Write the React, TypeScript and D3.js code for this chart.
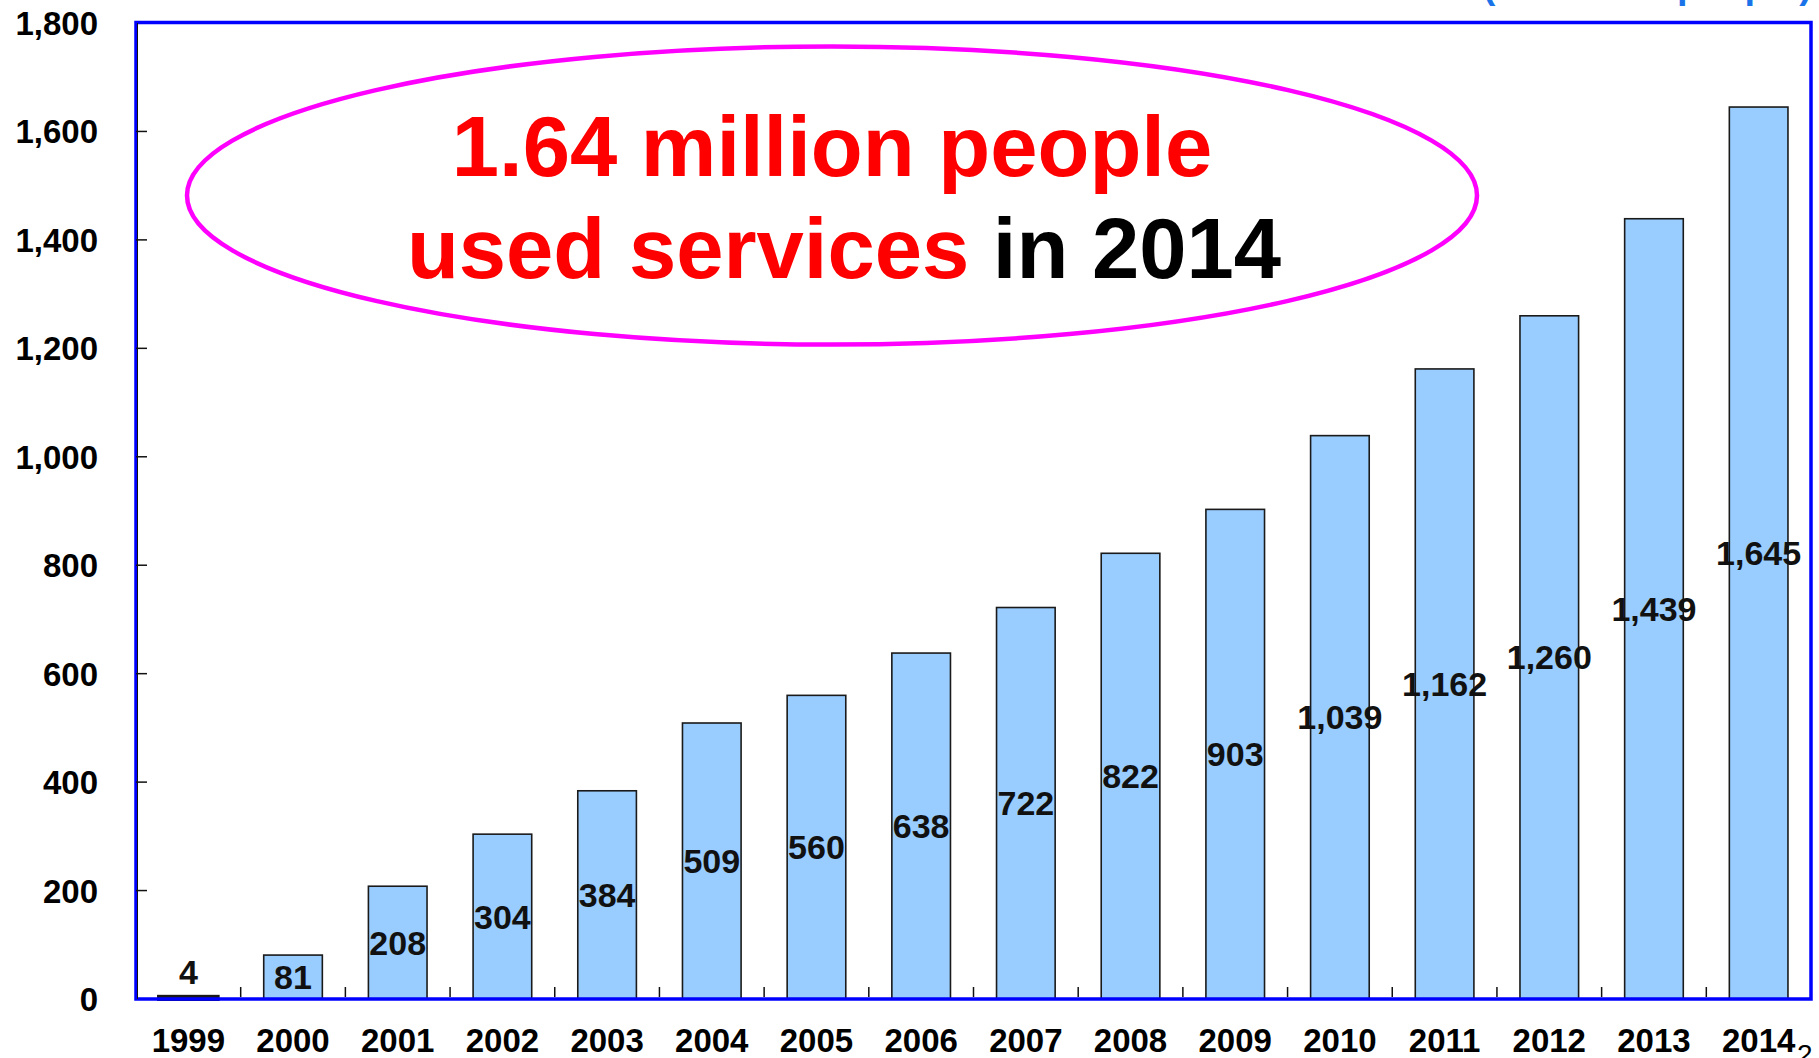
import React from "react";
import * as d3 from "d3";

const years = ["1999","2000","2001","2002","2003","2004","2005","2006","2007","2008","2009","2010","2011","2012","2013","2014"];
const users = [4, 81, 208, 304, 384, 509, 560, 638, 722, 822, 903, 1039, 1162, 1260, 1439, 1645];
const yTicks = [0, 200, 400, 600, 800, 1000, 1200, 1400, 1600, 1800];
const unitLabel = "(thousand people)";
const headline1 = "1.64 million people";
const headline2Red = "used services";
const headline2Black = " in 2014";

const W = 1819;
const H = 1058;
const FONT = "'Liberation Sans', Arial, sans-serif";

export default function App() {
  const left = 136, right = 1811, top = 23, bottom = 999;
  const x = d3.scaleBand<string>().domain(years).range([left, right]).paddingInner(0.44).paddingOuter(0.22);
  const y = d3.scaleLinear().domain([0, 1800]).range([bottom, top]);
  const step = x.step();
  const fmt = d3.format(",");

  return (
    <svg width={W} height={H} style={{ position: "absolute", left: 0, top: 0, background: "#fff" }}>
      <rect x={0} y={0} width={W} height={H} fill="#fff" />
      {/* bars */}
      {years.map((yr, i) => {
        const v = users[i];
        const bx = x(yr)!;
        return (
          <rect key={yr} x={bx} y={y(v)} width={x.bandwidth()} height={Math.max(0, bottom - y(v))}
            fill="#99CCFF" stroke="#1a1a1a" strokeWidth={v < 20 ? 4 : 1.6} />
        );
      })}
      {/* frame */}
      <rect x={left} y={top - 0.5} width={right - left} height={bottom - top + 0.5} fill="none" stroke="#0000FF" strokeWidth={3.5} />
      <line x1={left + 1.5} x2={left + 1.5} y1={top} y2={bottom} stroke="#111" strokeWidth={1} />
      {/* y ticks */}
      {yTicks.map(t => (
        <g key={t}>
          {t > 0 && t < 1800 && <line x1={left} x2={left + 11} y1={y(t)} y2={y(t)} stroke="#111" strokeWidth={1.5} />}
          <text x={98} y={y(t) + 12} textAnchor="end" fontFamily={FONT} fontWeight="bold" fontSize={33} fill="#000">{fmt(t)}</text>
        </g>
      ))}
      {/* x ticks */}
      {years.slice(1).map((yr) => {
        const tx = x(yr)! - (step - x.bandwidth()) / 2;
        return <line key={yr} x1={tx} x2={tx} y1={bottom - 2} y2={bottom - 12} stroke="#111" strokeWidth={1.5} />;
      })}
      {/* x labels */}
      {years.map(yr => (
        <text key={yr} x={x(yr)! + x.bandwidth() / 2} y={1052} textAnchor="middle" fontFamily={FONT} fontWeight="bold" fontSize={33} fill="#000">{yr}</text>
      ))}
      {/* value labels */}
      {years.map((yr, i) => {
        const v = users[i];
        const cy = v < 40 ? y(v) - 25 : (y(v) + bottom) / 2;
        return (
          <text key={yr} x={x(yr)! + x.bandwidth() / 2} y={cy + 12} textAnchor="middle" fontFamily={FONT} fontWeight="bold" fontSize={34} fill="#111">{fmt(v)}</text>
        );
      })}
      {/* unit label (cut off at top) */}
      <text x={1812} y={-2} textAnchor="end" fontFamily={FONT} fontWeight="bold" fontSize={38} fill="#1a73e8">{unitLabel}</text>
      {/* page number fragment */}
      <text x={1797} y={1064} fontFamily={FONT} fontSize={28} fill="#000">2</text>
      {/* ellipse annotation */}
      <ellipse cx={832} cy={195.5} rx={645} ry={149} fill="none" stroke="#FF00FF" strokeWidth={4.5} />
      <text x={832} y={176} textAnchor="middle" fontFamily={FONT} fontWeight="bold" fontSize={85} fill="#FF0000">{headline1}</text>
      <text x={844} y={278} textAnchor="middle" fontFamily={FONT} fontWeight="bold" fontSize={85}>
        <tspan fill="#FF0000">{headline2Red}</tspan>
        <tspan fill="#000">{headline2Black}</tspan>
      </text>
    </svg>
  );
}
